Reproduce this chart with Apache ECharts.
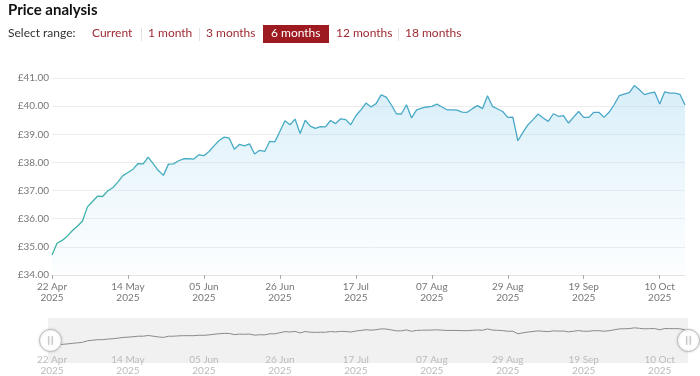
<!DOCTYPE html>
<html>
<head>
<meta charset="utf-8">
<title>Price analysis</title>
<script src="https://cdn.jsdelivr.net/npm/echarts@6/dist/echarts.min.js"></script>
<style>
    html, body { margin: 0; padding: 0; background: #fff; }
    #chart_price { width: 700px; height: 376px; }
</style>
</head>
<body>
<div id="chart_price"></div>
<script>
var year = '2025';
// trading days (UK, bank holidays skipped)
var daysApr = [22, 23, 24, 25, 28, 29, 30];
var daysMay = [1, 2, 6, 7, 8, 9, 12, 13, 14, 15, 16, 19, 20, 21, 22, 23, 27, 28, 29, 30];
var daysJun = [2, 3, 4, 5, 6, 9, 10, 11, 12, 13, 16, 17, 18, 19, 20, 23, 24, 25, 26, 27, 30];
var daysJul = [1, 2, 3, 4, 7, 8, 9, 10, 11, 14, 15, 16, 17, 18, 21, 22, 23, 24, 25, 28, 29, 30, 31];
var daysAug = [1, 4, 5, 6, 7, 8, 11, 12, 13, 14, 15, 18, 19, 20, 21, 22, 26, 27, 28, 29];
var daysSep = [1, 2, 3, 4, 5, 8, 9, 10, 11, 12, 15, 16, 17, 18, 19, 22, 23, 24, 25, 26, 29, 30];
var daysOct = [1, 2, 3, 6, 7, 8, 9, 10, 13, 14, 15, 16, 17];

var prices = [
    34.71, 35.13, 35.23, 35.38, 35.57, 35.73, 35.91, 36.42, 36.61, 36.80,
    36.79, 36.99, 37.10, 37.30, 37.53, 37.64, 37.76, 37.96, 37.95, 38.19,
    37.95, 37.71, 37.54, 37.94, 37.95, 38.06, 38.13, 38.13, 38.12, 38.27,
    38.24, 38.39, 38.59, 38.78, 38.90, 38.86, 38.47, 38.64, 38.59, 38.66,
    38.30, 38.43, 38.39, 38.75, 38.73, 39.10, 39.48, 39.34, 39.54, 39.03,
    39.50, 39.29, 39.21, 39.27, 39.26, 39.49, 39.38, 39.55, 39.52, 39.34,
    39.66, 39.87, 40.11, 39.97, 40.09, 40.40, 40.32, 40.05, 39.73, 39.72,
    40.05, 39.58, 39.87, 39.93, 39.97, 39.99, 40.07, 39.97, 39.87, 39.87,
    39.86, 39.79, 39.78, 39.91, 40.02, 39.91, 40.37, 39.99, 39.90, 39.81,
    39.60, 39.61, 38.77, 39.07, 39.34, 39.52, 39.72, 39.58, 39.46, 39.73,
    39.64, 39.66, 39.40, 39.61, 39.81, 39.60, 39.60, 39.78, 39.78, 39.60,
    39.78, 40.05, 40.37, 40.43, 40.48, 40.73, 40.58, 40.41, 40.46, 40.50,
    40.08, 40.51, 40.46, 40.46, 40.42, 40.04
];

var yMin = 34;
var yMax = 41;
var yStep = 1;
var labelEvery = 15;

var rangeNames = ['Current', '1 month', '3 months', '6 months', '12 months', '18 months'];
var activeRange = '6 months';

var categories = buildDates();

function buildDates() {
    var months = [['Apr', daysApr], ['May', daysMay], ['Jun', daysJun], ['Jul', daysJul],
                  ['Aug', daysAug], ['Sep', daysSep], ['Oct', daysOct]];
    var out = [];
    for (var m = 0; m < months.length; m++) {
        var list = months[m][1];
        for (var j = 0; j < list.length; j++) {
            var dd = list[j].toString().replace(/^(\d)$/, '0$1');
            out.push(dd + ' ' + months[m][0] + ' ' + year);
        }
    }
    return out;
}

function dateLabel(v) {
    var i = v.lastIndexOf(' ');
    return v.substr(0, i) + '\n' + v.substr(i + 1);
}

/* header: title + range buttons */
function headerGraphics() {
    var fontFam = 'Lato, "Open Sans", sans-serif';
    var xs = [92, 148, 206, 271, 336, 405];
    var seps = [141, 199, 398];
    var els = [];
    els.push({
        type: 'text', left: 8, top: 3,
        style: { text: 'Price analysis', fill: '#111', font: 'bold 15px ' + fontFam }
    });
    els.push({
        type: 'text', left: 8, top: 27,
        style: { text: 'Select range:', fill: '#333', font: '12px ' + fontFam }
    });
    for (var i = 0; i < rangeNames.length; i++) {
        var active = rangeNames[i] === activeRange;
        if (active) {
            els.push({
                type: 'rect', shape: { x: xs[i] - 8, y: 25, width: 66, height: 18 },
                style: { fill: '#9d1a20' }
            });
        }
        els.push({
            type: 'text', left: xs[i], top: 27,
            style: { text: rangeNames[i], fill: active ? '#fff' : '#9d2a33', font: '12px ' + fontFam }
        });
    }
    for (var k = 0; k < seps.length; k++) {
        els.push({
            type: 'rect', shape: { x: seps[k], y: 28, width: 1, height: 13 },
            style: { fill: '#e2e2e2' }
        });
    }
    // navigator background band
    els.push({
        type: 'rect', z: -10, shape: { x: 48, y: 318, width: 640, height: 45 },
        style: { fill: '#f1f1f1' }
    });
    return els;
}

var chart_price = echarts.init(document.getElementById('chart_price'));

var option = {
    animation: false,
    textStyle: { fontFamily: 'Lato, "Open Sans", sans-serif' },
    graphic: headerGraphics(),
    grid: [
        { left: 52, right: 15, top: 78, height: 197 },
        { left: 52, right: 15, top: 318, height: 34 }
    ],
    xAxis: [
        {
            type: 'category',
            gridIndex: 0,
            boundaryGap: false,
            data: categories,
            axisLine: { lineStyle: { color: '#e4e4e4' } },
            axisTick: { interval: labelEvery - 1, length: 4, lineStyle: { color: '#aaa' } },
            axisLabel: {
                interval: labelEvery - 1,
                color: '#777',
                fontSize: 10,
                lineHeight: 11,
                margin: 6,
                formatter: dateLabel
            }
        },
        {
            type: 'category',
            gridIndex: 1,
            boundaryGap: false,
            data: categories,
            axisLine: { show: false },
            axisTick: { show: false },
            axisLabel: {
                interval: labelEvery - 1,
                color: '#bbb',
                fontSize: 10,
                lineHeight: 11,
                margin: 2,
                formatter: dateLabel
            }
        }
    ],
    yAxis: [
        {
            type: 'value',
            gridIndex: 0,
            min: yMin,
            max: yMax,
            interval: yStep,
            axisLine: { show: false },
            axisTick: { show: false },
            splitLine: { lineStyle: { color: '#ececec' } },
            axisLabel: {
                color: '#777',
                fontSize: 10,
                margin: 3,
                formatter: function (v) { return '£' + v.toFixed(2); }
            }
        },
        {
            type: 'value',
            gridIndex: 1,
            min: 32.7,
            max: 44,
            show: false
        }
    ],
    dataZoom: [{
        type: 'slider',
        xAxisIndex: 0,
        start: 0,
        end: 100,
        left: 48,
        right: 12,
        top: 318,
        height: 45,
        showDataShadow: false,
        showDetail: false,
        brushSelect: false,
        moveHandleSize: 0,
        borderColor: 'transparent',
        backgroundColor: 'transparent',
        fillerColor: 'rgba(0,0,0,0)',
        handleIcon: 'path://M0,-10A10,10,0,1,1,0,10A10,10,0,1,1,0,-10ZM-1.6,-4L-1.6,4M1.6,-4L1.6,4',
        handleSize: 22,
        handleStyle: {
            color: '#fff',
            borderColor: '#bbb',
            borderWidth: 1,
            shadowBlur: 3,
            shadowColor: 'rgba(0,0,0,0.15)'
        }
    }],
    series: [
        {
            name: 'Price',
            type: 'line',
            xAxisIndex: 0,
            yAxisIndex: 0,
            data: prices,
            symbol: 'none',
            lineStyle: {
                width: 1.3,
                color: new echarts.graphic.LinearGradient(0, 0, 1, 0, [
                    { offset: 0, color: '#3bb3a0' },
                    { offset: 0.2, color: '#46acc2' },
                    { offset: 1, color: '#4aa6ca' }
                ])
            },
            areaStyle: {
                origin: 'start',
                color: new echarts.graphic.LinearGradient(0, 0, 0, 1, [
                    { offset: 0, color: 'rgba(150,210,238,0.55)' },
                    { offset: 1, color: 'rgba(235,246,252,0.25)' }
                ])
            }
        },
        {
            name: 'Navigator',
            type: 'line',
            xAxisIndex: 1,
            yAxisIndex: 1,
            data: prices,
            symbol: 'none',
            silent: true,
            lineStyle: { width: 1, color: '#8a8a8a' }
        }
    ]
};

chart_price.setOption(option);
</script>
</body>
</html>
